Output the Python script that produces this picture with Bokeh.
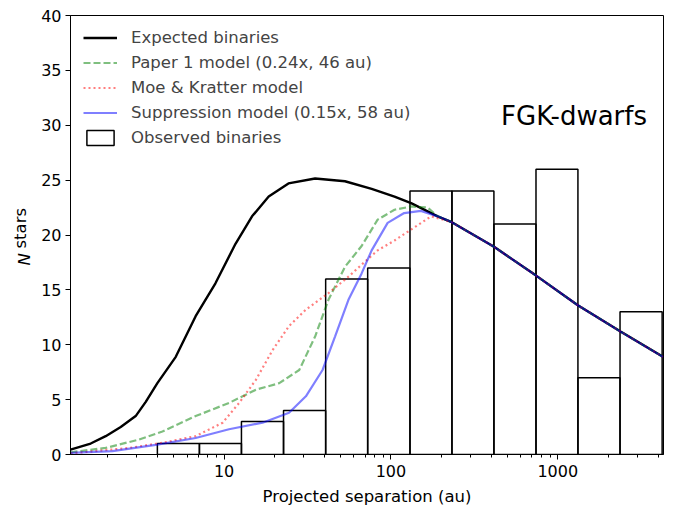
import math
from bokeh.plotting import figure
from bokeh.models import (Range1d, Legend, LegendItem, Label, SingleIntervalTicker,
                          NumeralTickFormatter)
from bokeh.embed import file_html
from bokeh.resources import INLINE

# ---- data ----
bin_edges = [3.98, 7.11, 12.7, 22.7, 40.6, 72.5, 130, 232, 414, 740, 1320, 2360, 4220]
observed_counts = [1, 1, 3, 4, 16, 17, 24, 24, 21, 26, 7, 13]

sep_expected = [1.2, 1.585, 1.95, 2.4, 2.95, 3.39, 3.98, 5.13, 6.75, 8.87, 11.7, 14.7, 18.5,
                24.3, 35.1, 53, 76.6, 105, 132, 190.5, 229, 417, 741, 1318, 2377, 4266]
n_expected = [0.45, 1.0, 1.67, 2.5, 3.5, 4.8, 6.5, 8.9, 12.6, 15.6, 19.2, 21.7, 23.5,
              24.7, 25.15, 24.9, 24.2, 23.5, 22.9, 21.7, 21.2, 18.9, 16.3, 13.6, 11.2, 8.9]

sep_paper1 = [1.2, 1.95, 3.09, 4.27, 6.75, 10.7, 15.5, 21.4, 28.2, 35.1, 42.2, 53, 66.7,
              83.2, 105, 132, 166, 190.5, 229, 417, 741, 1318, 2377, 4266]
n_paper1 = [0.2, 0.6, 1.36, 2.1, 3.5, 4.7, 5.9, 6.5, 7.7, 10.75, 14.1, 17.1, 19.0,
            21.4, 22.3, 22.6, 22.5, 21.7, 21.2, 18.9, 16.3, 13.6, 11.2, 8.9]

sep_moe = [1.2, 2.7, 4.27, 6.75, 9.8, 12.3, 15.5, 19.5, 24.5, 30.9, 42.2, 55.6, 66.7,
           83.2, 105, 132, 174, 229, 417, 741, 1318, 2377, 4266]
n_moe = [0.1, 0.6, 1.06, 1.67, 2.9, 4.7, 6.8, 9.5, 11.7, 13.2, 14.7, 16.2, 17.3,
         18.6, 19.5, 20.5, 21.7, 21.2, 18.9, 16.3, 13.6, 11.2, 8.9]

sep_supp = [1.2, 2.14, 3.98, 6.75, 10.7, 17, 24.5, 30.9, 38.9, 46.2, 55.6, 66.7, 76.6,
            95.5, 120, 151, 190.5, 229, 417, 741, 1318, 2377, 4266]
n_supp = [0.15, 0.3, 0.9, 1.5, 2.3, 2.9, 3.8, 5.3, 7.7, 10.75, 14.1, 16.5, 18.6,
          21.1, 22.0, 22.2, 21.7, 21.2, 18.9, 16.3, 13.6, 11.2, 8.9]

FONT = "DejaVu Sans"

p = figure(width=665, height=508, x_axis_type="log",
           x_range=Range1d(1.2, 4300), y_range=Range1d(0, 40),
           output_backend="svg", toolbar_location=None,
           min_border_left=68, min_border_right=2, min_border_top=15, min_border_bottom=53)

p.grid.visible = False
p.outline_line_color = "black"
p.outline_line_alpha = 1
p.outline_line_width = 1
p.background_fill_color = "white"
p.border_fill_color = "white"

bars = p.quad(left=bin_edges[:-1], right=bin_edges[1:], bottom=0, top=observed_counts,
              fill_color=None, line_color="black", line_width=1.5)
l_exp = p.line(sep_expected, n_expected, line_color="black", line_width=2.4)
l_p1 = p.line(sep_paper1, n_paper1, line_color="#008000", line_alpha=0.5, line_width=2.2,
              line_dash="7 3")
l_moe = p.line(sep_moe, n_moe, line_color="#ff0000", line_alpha=0.5, line_width=2.2,
               line_dash="2 3")
l_sup = p.line(sep_supp, n_supp, line_color="#0000ff", line_alpha=0.5, line_width=2.2)

legend = Legend(items=[
    LegendItem(label="Expected binaries", renderers=[l_exp]),
    LegendItem(label="Paper 1 model (0.24x, 46 au)", renderers=[l_p1]),
    LegendItem(label="Moe & Kratter model", renderers=[l_moe]),
    LegendItem(label="Suppression model (0.15x, 58 au)", renderers=[l_sup]),
    LegendItem(label="Observed binaries", renderers=[bars]),
], location="top_left")
legend.label_text_font = FONT
legend.label_text_font_size = "16.5px"
legend.glyph_width = 34
legend.glyph_height = 19
legend.label_height = 19
legend.label_standoff = 14
legend.spacing = 6
legend.margin = 5
legend.padding = 8
legend.border_line_alpha = 0
legend.background_fill_alpha = 0
p.add_layout(legend)

for ax in (p.xaxis[0], p.yaxis[0]):
    ax.axis_line_color = "black"
    ax.major_tick_line_color = "black"
    ax.minor_tick_line_color = "black"
    ax.major_tick_out = 5
    ax.major_tick_in = 0
    ax.minor_tick_out = 3
    ax.minor_tick_in = 0
    ax.major_label_text_font = FONT
    ax.major_label_text_font_size = "16px"
    ax.major_label_text_color = "black"

p.xaxis.major_label_standoff = 5
p.yaxis.major_label_standoff = 4
p.xaxis.formatter = NumeralTickFormatter(format="0")
p.xaxis.axis_label = "Projected separation (au)"
p.xaxis.axis_label_text_font = FONT
p.xaxis.axis_label_text_font_size = "16.5px"
p.xaxis.axis_label_text_font_style = "normal"
p.xaxis.axis_label_text_color = "black"
p.xaxis.axis_label_standoff = 7

p.yaxis.ticker = SingleIntervalTicker(interval=5, num_minor_ticks=0)
p.yaxis.minor_tick_line_color = None

# y-axis label with italic N, placed in the left side panels
p.add_layout(Label(x=5, y=189, x_units="screen", y_units="screen", text="N",
                   angle=math.pi / 2, text_align="left", text_baseline="alphabetic",
                   text_font=FONT, text_font_size="16.5px", text_font_style="italic",
                   text_color="black"), "left")
p.add_layout(Label(x=20, y=206, x_units="screen", y_units="screen", text="stars",
                   angle=math.pi / 2, text_align="left", text_baseline="alphabetic",
                   text_font=FONT, text_font_size="16.5px", text_color="black"), "left")

p.add_layout(Label(x=457, y=30.8, text="FGK-dwarfs", text_align="left",
                   text_baseline="alphabetic", text_font=FONT, text_font_size="26px",
                   text_color="black"))

open("out.html", "w").write(file_html(p, INLINE))
